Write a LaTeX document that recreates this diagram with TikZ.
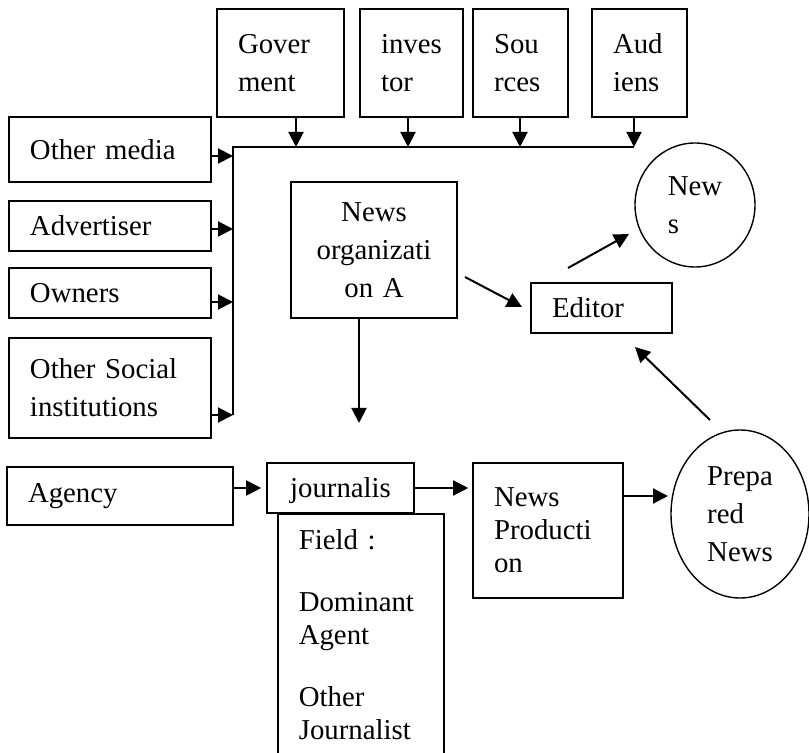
\documentclass[tikz,border=0pt]{standalone}
\usepackage{fontspec}
\setmainfont{Liberation Serif}
\usetikzlibrary{shapes.geometric,arrows.meta}

\begin{document}
\begin{tikzpicture}[x=0.5pt,y=-0.5pt,
    box/.style={draw,line width=0.8pt,fill=white,align=left,inner xsep=10.5pt,inner ysep=0pt,font=\fontsize{14.4}{19}\selectfont},
    oval/.style={draw,ellipse,line width=0.7pt,fill=white,align=left,inner sep=0pt,font=\fontsize{14.4}{19}\selectfont},
    arr/.style={line width=1pt,-{Triangle[length=7.5pt,width=7.5pt]}}]
    \useasboundingbox (0,0) rectangle (809,753);
    \clip (0,0) rectangle (809,753);
    \foreach \nm/\cx/\w/\ax/\txt in {gov/280.5/42.5/296/{Gover\\ment},inv/411.5/30.5/408/{inves\\tor},src/520.5/26.5/520/{Sou\\rces},aud/639.5/26.5/634/{Aud\\iens}} {
        \node[box,text width=\w pt,minimum height=54pt] (\nm) at (\cx,63) {\txt};
        \coordinate (t\nm) at (\ax,147);
        \draw[arr] (\nm.south -| t\nm) -- (t\nm);
        }
    \foreach \nm/\cy/\h/\ay/\txt in {omedia/149.5/32.5/156/Other media,adv/226/25/229/Advertiser,own/293/25/302/Owners,osoc/388/50/415/{Other Social\\institutions}} {
        \node[box,text width=80pt,minimum height=\h pt] (\nm) at (110,\cy) {\txt};
        \coordinate (l\nm) at (233,\ay);
        \draw[arr] (\nm.east |- l\nm) -- (l\nm);
        }
    \coordinate (bus) at (233,147);
    \draw[line width=1pt] (taud) -- (bus) -- (losoc);
    \node[box,align=center,text width=62pt,minimum height=68pt] (org) at (374,250) {News\\organizati\\on A};
    \node[box,text width=49.5pt,minimum height=25pt] (editor) at (601.5,308) {Editor};
    \node[oval,minimum width=60pt,minimum height=62pt] (news) at (695,205) {New\\s};
    \node[box,text width=92pt,minimum height=29pt] (agency) at (120,496) {Agency};
    \node[box,align=center,text width=52.5pt,text depth=0pt,minimum height=25pt] (jour) at (340.5,488) {journalis};
    \node[box,anchor=north west,inner ysep=7.7pt,text width=62pt,text depth=110pt,font=\fontsize{14.4}{16.5}\selectfont] (field) at (277,513) {Field :\\[14.5pt]Dominant\\Agent\\[14.5pt]Other\\Journalist};
    \node[box,text width=54pt,minimum height=67.5pt,font=\fontsize{14.4}{16.5}\selectfont] (np) at (548,530.5) {News\\Producti\\on};
    \node[oval,minimum width=69pt,minimum height=84pt] (prep) at (740,514) {Prepa\\red\\News};
    \coordinate (orgdown) at (359,423);
    \draw[arr] (org.south -| orgdown) -- (orgdown);
    \coordinate (orgout) at (465,277);
    \coordinate (edin) at (522,307);
    \draw[arr] (orgout) -- (edin);
    \coordinate (edout) at (568,268);
    \coordinate (newsin) at (629,234);
    \draw[arr] (edout) -- (newsin);
    \coordinate (prepout) at (710,420);
    \coordinate (edback) at (635,347);
    \draw[arr] (prepout) -- (edback);
    \draw[arr,shorten >=2.5pt] (agency.east |- jour.west) -- (jour.west);
    \draw[arr,shorten >=2pt] (jour.east) -- (jour.east -| np.west);
    \coordinate (prepin) at (668,496);
    \draw[arr] (np.east |- prepin) -- (prepin);
\end{tikzpicture}
\end{document}
